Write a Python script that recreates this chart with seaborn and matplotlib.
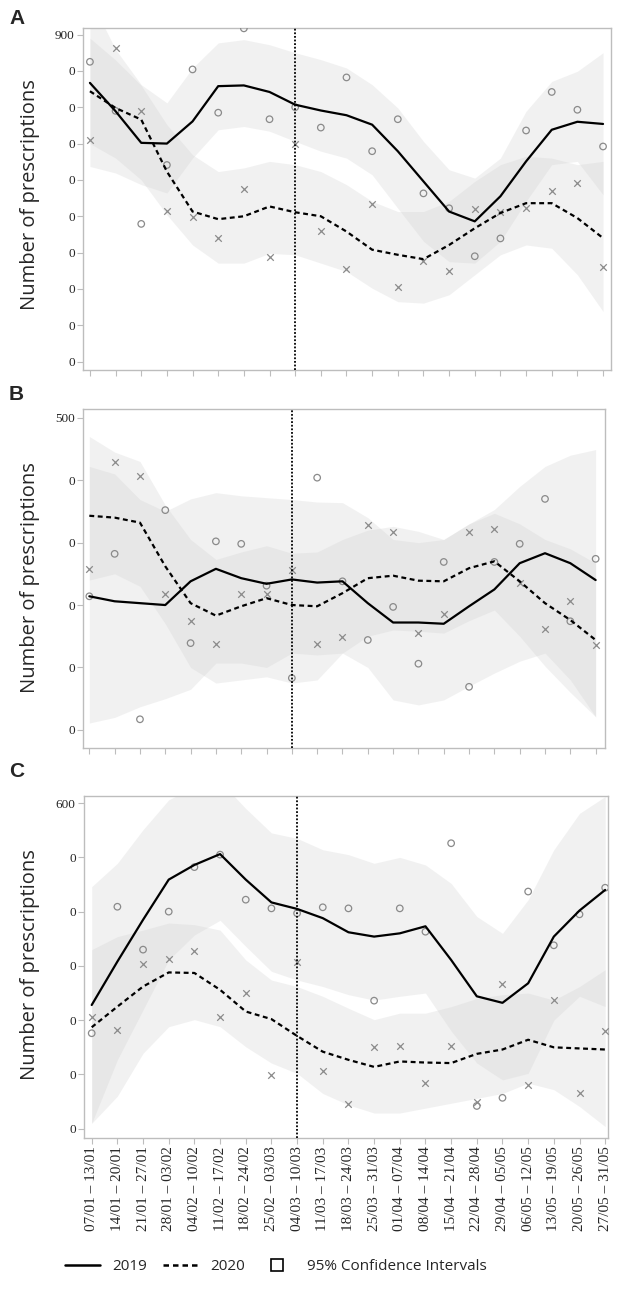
import numpy as np
import matplotlib
matplotlib.use("Agg")
import matplotlib.pyplot as plt
import seaborn as sns
from matplotlib.lines import Line2D

# ===============================
# DATA
# ===============================
weeks = ["07/01 – 13/01", "14/01 – 20/01", "21/01 – 27/01", "28/01 – 03/02",
         "04/02 – 10/02", "11/02 – 17/02", "18/02 – 24/02", "25/02 – 03/03",
         "04/03 – 10/03", "11/03 – 17/03", "18/03 – 24/03", "25/03 – 31/03",
         "01/04 – 07/04", "08/04 – 14/04", "15/04 – 21/04", "22/04 – 28/04",
         "29/04 – 05/05", "06/05 – 12/05", "13/05 – 19/05", "20/05 – 26/05",
         "27/05 – 31/05"]
lockdown_week = "04/03 – 10/03"

# panel A
a19_obs = [825, 690, 379, 541, 804, 685, 917, 667, 700, 644, 782, 579, 667, 463, 422, 290, 339, 636, 742, 693, 592]
a20_obs = [610, 862, 689, 415, 398, 341, 475, 289, 600, 360, 255, 434, 206, 278, 250, 419, 411, 423, 469, 491, 260]
a19_fit = [767, 689, 602, 600, 661, 758, 760, 742, 707, 691, 678, 652, 579, 496, 413, 386, 455, 551, 638, 660, 654]
a20_fit = [744, 698, 666, 523, 413, 392, 400, 427, 411, 400, 358, 308, 294, 282, 321, 367, 409, 436, 436, 395, 340]
a19_lo = [537, 519, 487, 464, 560, 638, 647, 634, 606, 579, 560, 514, 422, 331, 275, 271, 331, 441, 542, 551, 459]
a19_hi = [1000, 859, 762, 712, 808, 877, 886, 872, 850, 831, 808, 762, 698, 606, 528, 505, 560, 689, 771, 799, 850]
a20_lo = [600, 560, 500, 404, 321, 271, 271, 298, 294, 271, 248, 202, 165, 161, 184, 239, 294, 321, 312, 239, 138]
a20_hi = [890, 830, 760, 652, 569, 523, 533, 551, 542, 523, 487, 441, 413, 413, 441, 496, 542, 565, 560, 542, 551]

# panel B
b19_obs = [214, 282, 17, 352, 139, 302, 298, 231, 83, 404, 238, 144, 197, 106, 269, 69, 269, 298, 370, 174, 274]
b20_obs = [257, 429, 406, 217, 174, 137, 218, 218, 256, 137, 149, 328, 317, 155, 186, 317, 322, 235, 162, 207, 136]
b19_fit = [214, 206, 203, 200, 238, 258, 243, 234, 241, 236, 238, 203, 172, 172, 170, 198, 225, 267, 283, 267, 240]
b20_fit = [343, 340, 332, 262, 203, 183, 198, 211, 200, 198, 219, 243, 247, 239, 238, 259, 270, 238, 203, 176, 144]
b19_lo = [11, 20, 37, 50, 65, 107, 107, 100, 123, 120, 123, 100, 48, 40, 48, 70, 91, 110, 123, 80, 21]
b19_hi = [422, 410, 369, 350, 370, 380, 375, 372, 369, 365, 364, 340, 305, 300, 305, 330, 353, 390, 422, 440, 449]
b20_lo = [240, 250, 230, 170, 100, 75, 80, 85, 75, 80, 123, 150, 160, 158, 155, 175, 192, 150, 102, 60, 21]
b20_hi = [470, 445, 430, 360, 305, 273, 285, 295, 283, 285, 305, 320, 326, 318, 305, 330, 347, 330, 305, 290, 267]

# panel C
c19_obs = [176, 409, 330, 400, 482, 505, 422, 406, 397, 408, 406, 236, 406, 363, 526, 42, 57, 437, 338, 395, 444]
c20_obs = [206, 182, 304, 313, 328, 205, 251, 99, 308, 107, 46, 150, 153, 84, 152, 50, 266, 81, 238, 65, 180]
c19_fit = [228, 308, 385, 459, 486, 506, 459, 417, 405, 388, 362, 354, 360, 373, 311, 244, 232, 268, 354, 402, 440]
c20_fit = [187, 225, 262, 288, 287, 256, 216, 202, 171, 142, 127, 114, 124, 122, 121, 138, 146, 164, 150, 148, 146]
c19_lo = [10, 127, 219, 311, 357, 384, 336, 290, 274, 262, 247, 237, 244, 250, 180, 121, 90, 102, 200, 244, 225]
c19_hi = [446, 489, 551, 606, 630, 640, 590, 545, 535, 514, 505, 489, 500, 486, 452, 391, 360, 422, 514, 581, 612]
c20_lo = [10, 60, 139, 188, 201, 188, 151, 121, 102, 65, 44, 29, 29, 38, 47, 56, 65, 84, 72, 41, 4]
c20_hi = [330, 354, 366, 379, 376, 366, 311, 274, 262, 244, 222, 201, 213, 213, 225, 240, 247, 250, 237, 262, 293]

# ===============================
# STYLE
# ===============================
sns.set_theme(style="white")
plt.rcParams['font.family'] = ['Open Sans', 'DejaVu Sans']

BAND = '#cfcfcf'
BAND_ALPHA = 0.28
MARK = '#8a8a8a'
SPINE = '#bdbdbd'
DASH = (0, (2.2, 1.6))

fig = plt.figure(figsize=(6.18, 13.02), dpi=100)
W, H = 618.0, 1302.0


def add_axes_px(left, top, right, bottom):
    return fig.add_axes([left / W, 1 - bottom / H, (right - left) / W, (bottom - top) / H])


def draw_panel(ax, obs19, obs20, fit19, fit20, lo19, hi19, lo20, hi20, ymax, ylim, xlim, show_x):
    x = np.arange(len(weeks))
    ax.fill_between(x, lo19, hi19, color=BAND, alpha=BAND_ALPHA, lw=0)
    ax.fill_between(x, lo20, hi20, color=BAND, alpha=BAND_ALPHA, lw=0)
    sns.scatterplot(x=x, y=obs19, marker='o', s=22, facecolor='none',
                    edgecolor=MARK, linewidth=0.9, ax=ax, zorder=3)
    sns.scatterplot(x=x, y=obs20, marker='x', s=22, color=MARK,
                    linewidth=0.9, ax=ax, zorder=3)
    sns.lineplot(x=x, y=fit19, color='black', lw=1.6, ax=ax, zorder=4)
    sns.lineplot(x=x, y=fit20, color='black', lw=1.6, ls=DASH, ax=ax, zorder=4)
    ax.axvline(weeks.index(lockdown_week), color='black', ls=(0, (1, 1)), lw=1.3, zorder=5)

    ax.set_xlim(*xlim)
    ax.set_ylim(*ylim)
    yt = list(range(0, ymax + 1, 100))
    ax.set_yticks(yt)
    ax.set_yticklabels(['0'] * (len(yt) - 1) + [str(ymax)],
                       family='Liberation Serif', fontsize=9.5)
    ax.set_xticks(x)
    if show_x:
        ax.set_xticklabels(weeks, rotation=90, family='Liberation Serif', fontsize=11)
    else:
        ax.set_xticklabels([])
    ax.tick_params(axis='both', direction='out', length=4, width=0.8,
                   color=SPINE, pad=2, bottom=True, left=True)
    for sp in ax.spines.values():
        sp.set_color(SPINE)
        sp.set_linewidth(1.0)
    ax.set_xlabel('')
    ax.set_ylabel('')


axA = add_axes_px(83, 28, 611, 370)
draw_panel(axA, a19_obs, a20_obs, a19_fit, a20_fit, a19_lo, a19_hi, a20_lo, a20_hi,
           900, (-23, 918), (-0.27, 20.31), False)

axB = add_axes_px(83, 409, 605, 748)
draw_panel(axB, b19_obs, b20_obs, b19_fit, b20_fit, b19_lo, b19_hi, b20_lo, b20_hi,
           500, (-29, 514), (-0.25, 20.37), False)

axC = add_axes_px(84, 796, 608, 1138)
draw_panel(axC, c19_obs, c20_obs, c19_fit, c20_fit, c19_lo, c19_hi, c20_lo, c20_hi,
           600, (-17, 613), (-0.3, 20.11), True)

# panel letters and y labels
for letter, ytop, ax_mid in [('A', 18, 195), ('B', 395, 578), ('C', 772, 965)]:
    fig.text(9 / W, 1 - ytop / H, letter, fontsize=15, fontweight='bold',
             ha='left', va='center', family=['Liberation Sans', 'DejaVu Sans'])
    fig.text(30 / W, 1 - ax_mid / H, 'Number of prescriptions', rotation=90,
             fontsize=14.5, ha='center', va='center')

# legend
handles = [Line2D([0], [0], color='black', lw=1.8),
           Line2D([0], [0], color='black', lw=1.8, ls=DASH),
           Line2D([0], [0], color='none', marker='s', markersize=8.5,
                  markerfacecolor='white', markeredgecolor='black', markeredgewidth=1.2)]
fig.legend(handles, ['2019', '2020', '95% Confidence Intervals'],
           loc='center', bbox_to_anchor=(276 / W, 1 - 1267 / H), ncol=3,
           frameon=False, fontsize=11, handlelength=2.3, handletextpad=0.8,
           columnspacing=1.0)

fig.savefig('out.png', dpi=100)
